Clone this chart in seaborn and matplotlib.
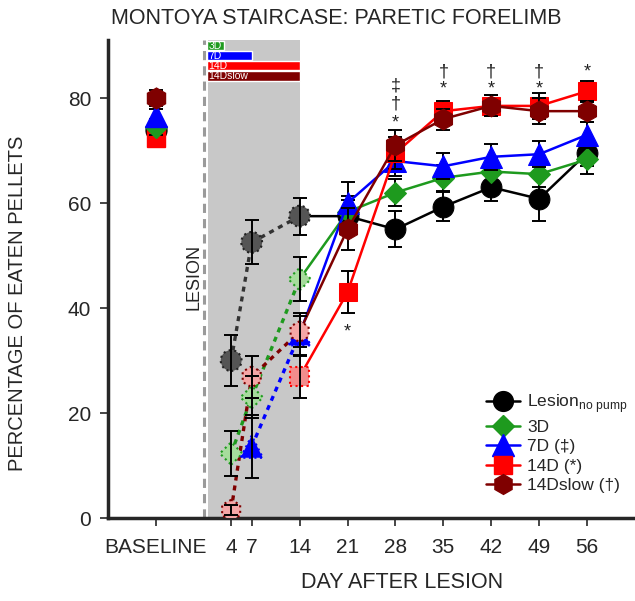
import numpy as np
import pandas as pd
import matplotlib
matplotlib.use('Agg')
import matplotlib.pyplot as plt
import seaborn as sns
from matplotlib.lines import Line2D

# --- data ---
days = [4, 7, 14, 21, 28, 35, 42, 49, 56]
tick_pos = [-7, 4, 7, 14, 21, 28, 35, 42, 49, 56]
tick_labels = ['BASELINE', '4', '7', '14', '21', '28', '35', '42', '49', '56']

groups = ['Lesion', '3D', '7D', '14D', '14Dslow']
legend_labels = ['Lesion$_{\\mathrm{no\\ pump}}$', '3D', '7D (\u2021)', '14D (*)', '14Dslow (\u2020)']

baseline_mean = [74.0, 74.5, 76.5, 72.3, 80.0]
baseline_err = [1.5, 1.5, 1.5, 1.5, 1.5]

lesion_mean = [30.0, 52.5, 57.5, 57.5, 55.0, 59.3, 63.0, 60.8, 69.5]
lesion_err = [4.9, 4.2, 3.5, 3.0, 3.4, 2.8, 2.6, 4.3, 2.5]
d3_mean = [12.3, 23.0, 45.5, 58.3, 62.0, 64.8, 66.0, 65.5, 68.3]
d3_err = [4.2, 4.0, 4.2, 3.0, 2.5, 2.5, 2.5, 2.5, 2.7]
d7_mean = [np.nan, 13.6, 35.0, 60.0, 68.0, 67.0, 68.8, 69.3, 73.0]
d7_err = [np.nan, 6.0, 4.0, 4.0, 2.8, 2.5, 2.5, 2.5, 2.5]
d14_mean = [np.nan, np.nan, 26.9, 43.0, 69.5, 77.5, 78.5, 78.5, 81.3]
d14_err = [np.nan, np.nan, 4.0, 4.0, 3.0, 2.0, 2.0, 2.5, 2.0]
d14slow_mean = [1.5, 26.9, 35.5, 55.0, 71.0, 76.0, 78.5, 77.5, 77.5]
d14slow_err = [1.0, 4.0, 3.0, 4.0, 3.0, 2.0, 2.0, 2.5, 2.0]

# pump periods shown as bars on top (start day, end day)
pump_names = ['3D', '7D', '14D', '14Dslow']
pump_start = [0.5, 0.5, 0.5, 0.5]
pump_end = [3, 7, 14, 14]
pump_level = [90.0, 88.05, 86.15, 84.2]

# significance marks: day, symbol, height
sig_days = [21, 28, 28, 28, 35, 35, 42, 42, 49, 49, 56]
sig_text = ['*', '*', '\u2020', '\u2021', '*', '\u2020', '*', '\u2020', '*', '\u2020', '*']
sig_y = [35.5, 75.3, 78.8, 82.3, 81.8, 85.0, 81.8, 85.0, 81.8, 85.0, 85.0]

means = [lesion_mean, d3_mean, d7_mean, d14_mean, d14slow_mean]
errs = [lesion_err, d3_err, d7_err, d14_err, d14slow_err]

colors = ['#000000', '#1e9a1e', '#0000ff', '#ff0000', '#7f0000']
pale = ['#555555', '#a6dc9c', '#0000ff', '#f28c8c', '#f4a6a6']
markers = ['o', 'D', '^', 's', 'h']
msizes = [15, 11.5, 16, 13.5, 15]
base_z = [4.0, 4.2, 4.3, 4.1, 4.4]

sns.set_style('ticks')
plt.rcParams['font.family'] = ['Liberation Sans', 'DejaVu Sans']
plt.rcParams['mathtext.fontset'] = 'custom'
plt.rcParams['mathtext.rm'] = 'Liberation Sans'

fig = plt.figure(figsize=(6.35, 6.01), dpi=100)
ax = fig.add_axes([0.170, 0.138, 0.830, 0.795])

# treatment period shading and lesion line
ax.axvspan(0.6, 14, color='#c8c8c8', zorder=0, lw=0)
ax.axvline(0, color='#9a9a9a', ls=(0, (3, 2)), lw=2.2, zorder=1)
ax.text(-1.4, 46, 'LESION', rotation=90, ha='center', va='center', fontsize=13)

for name, x0, x1, yc, c in zip(pump_names, pump_start, pump_end, pump_level, colors[1:]):
    ax.barh(yc, x1 - x0, left=x0, height=1.75, color=c, zorder=1.5)
    ax.text(x0 + 0.2, yc, name, color='white', fontsize=7.5, va='center', ha='left', zorder=1.6)

for i in range(5):
    m = np.array(means[i], dtype=float)
    e = np.array(errs[i], dtype=float)
    d = np.array(days)

    # baseline
    ax.errorbar([-7], [baseline_mean[i]], yerr=[baseline_err[i]], fmt='none', ecolor='black',
                capsize=5, elinewidth=1.4, capthick=1.4, zorder=base_z[i] - 0.05)
    ax.plot([-7], [baseline_mean[i]], marker=markers[i], ms=msizes[i], color=colors[i],
            mec=colors[i], ls='none', zorder=base_z[i])

    # treatment period: dotted lines, pale markers
    pre = (d <= 14) & ~np.isnan(m)
    if pre.sum() > 1:
        ax.plot(d[pre], m[pre], ls=(0, (1.5, 1.5)), color=colors[i] if i else '#333333',
                lw=2.4, zorder=3)
    ax.errorbar(d[pre], m[pre], yerr=e[pre], fmt='none', ecolor='black', capsize=5,
                elinewidth=1.4, capthick=1.4, zorder=5)
    sc = ax.scatter(d[pre], m[pre], marker=markers[i], s=msizes[i] ** 2, color=pale[i],
                    edgecolors=colors[i] if i != 0 else '#222222', linewidths=1.5, zorder=4.5 + i * 0.01)
    sc.set_linestyle(':')

    # after pump: solid lines
    post = d >= 14
    df = pd.DataFrame({'day': d[post], 'value': m[post]})
    ax.errorbar(d[d > 14], m[d > 14], yerr=e[d > 14], fmt='none', ecolor='black', capsize=5,
                elinewidth=1.4, capthick=1.4, zorder=3 + i * 0.1)
    sns.lineplot(data=df, x='day', y='value', ax=ax, color=colors[i], lw=1.8, marker=markers[i],
                 markersize=msizes[i], markeredgecolor=colors[i], markevery=list(range(1, len(df))),
                 sort=False, zorder=3.05 + i * 0.1)

for xd, t, yv in zip(sig_days, sig_text, sig_y):
    ax.text(xd, yv, t, ha='center', va='center', fontsize=13, color='#222222', zorder=6)

ax.set_xlim(-14, 63)
ax.set_ylim(0, 91)
ax.set_xticks(tick_pos)
ax.set_xticklabels(tick_labels)
ax.set_yticks([0, 20, 40, 60, 80])
ax.tick_params(axis='both', labelsize=15, width=1.2, length=6, direction='out')
ax.tick_params(axis='x', pad=8)
ax.tick_params(axis='y', pad=6)
ax.set_xlabel('DAY AFTER LESION', fontsize=15.5)
ax.xaxis.set_label_coords(0.558, -0.113)
ax.set_ylabel('PERCENTAGE OF EATEN PELLETS', fontsize=14.5)
ax.yaxis.set_label_coords(-0.154, 0.45)
fig.text(0.53, 0.97, 'MONTOYA STAIRCASE: PARETIC FORELIMB', fontsize=15.5, ha='center', va='center')
sns.despine(ax=ax)
for sp in ['left', 'bottom']:
    ax.spines[sp].set_linewidth(2.5)

handles = [Line2D([0], [0], color=colors[i], marker=markers[i], ms=msizes[i] * 0.95, lw=1.8)
           for i in range(5)]
ax.legend(handles, legend_labels, loc='lower right', bbox_to_anchor=(1.0, 0.037), frameon=False,
          fontsize=12.5, handlelength=2.0, handletextpad=0.4, labelspacing=0.25, borderaxespad=0.0)

fig.savefig('out.png', dpi=100)
